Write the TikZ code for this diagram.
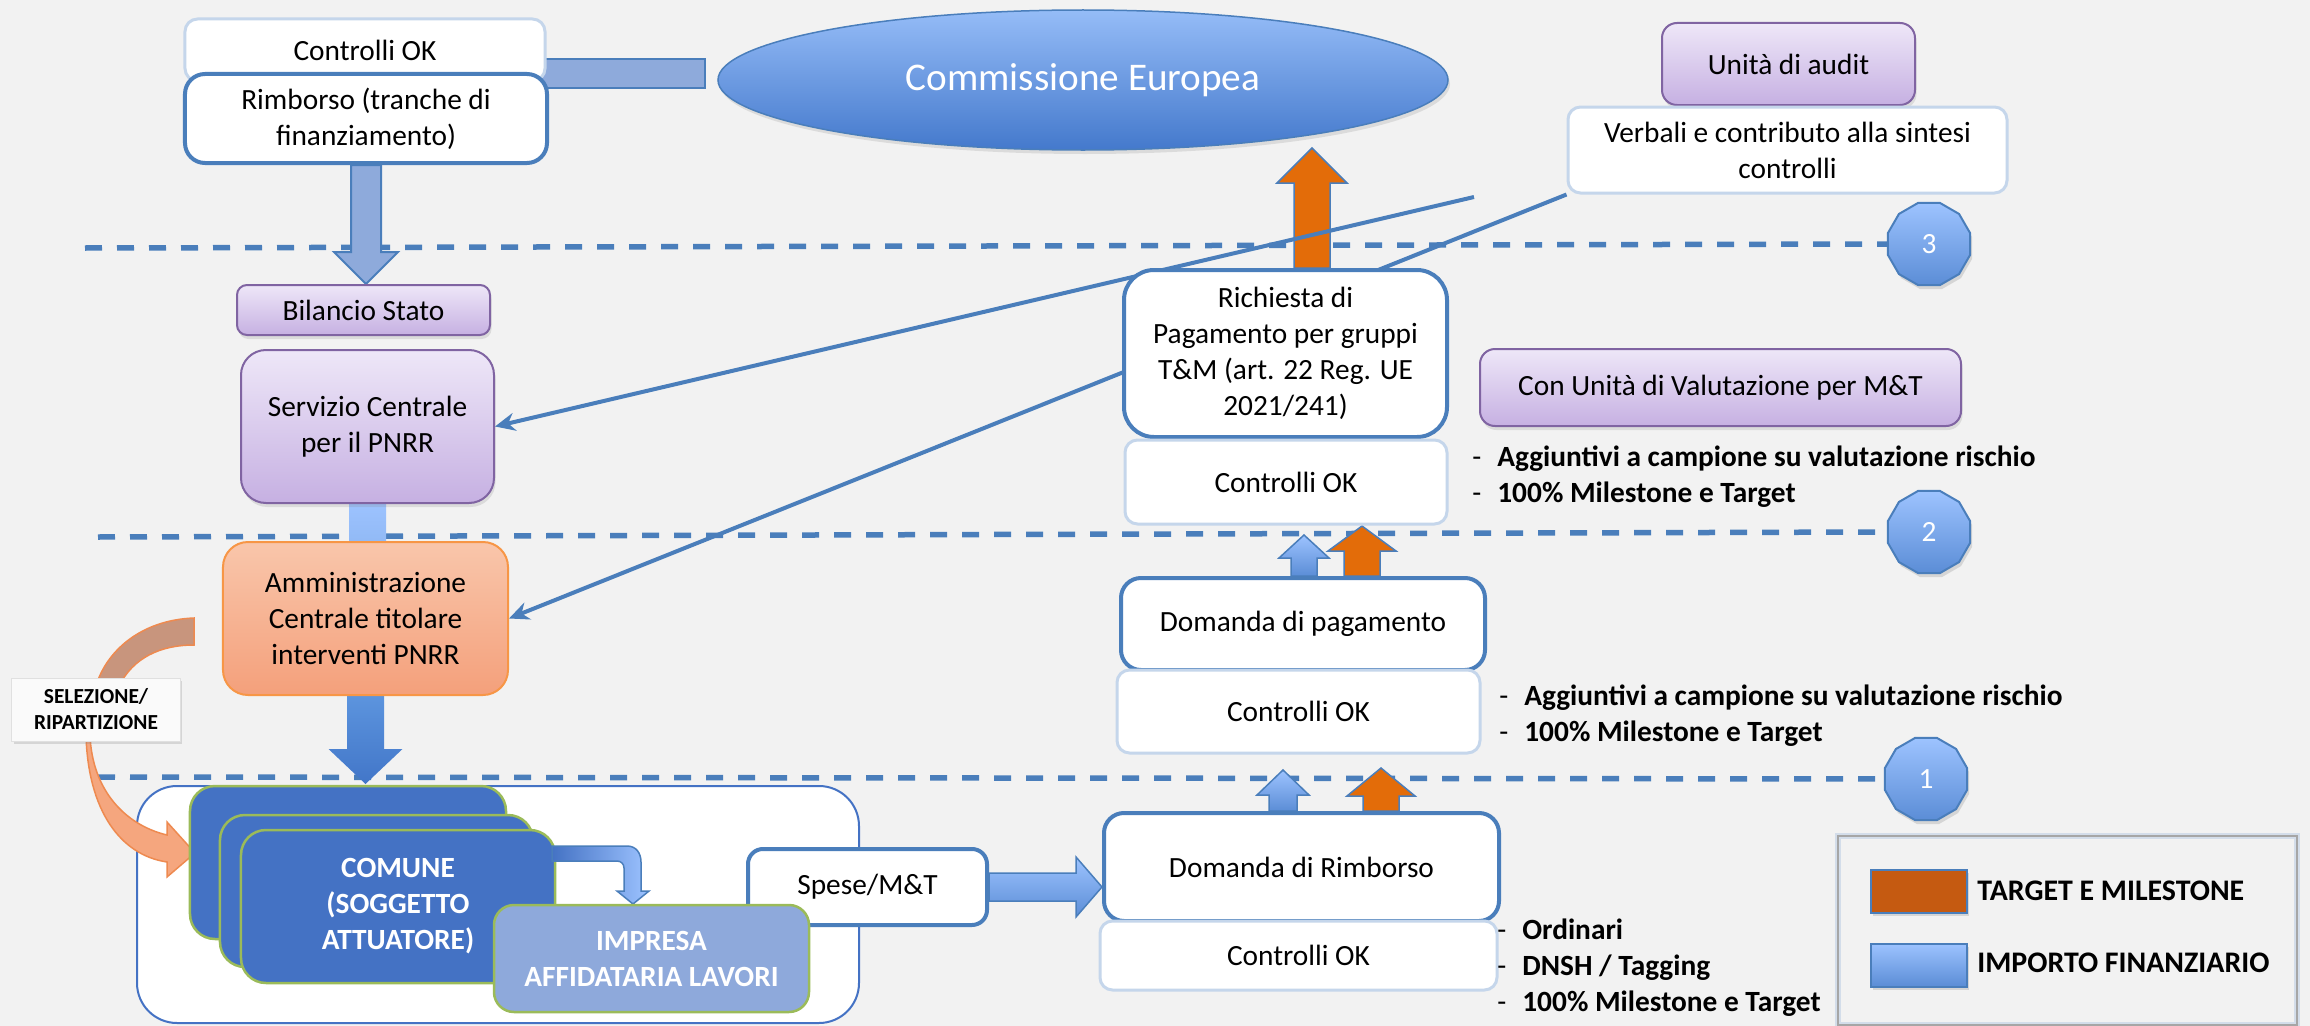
\documentclass[tikz,border=0pt]{standalone}
\usepackage{fontspec}
\setmainfont{Carlito}
\usetikzlibrary{arrows.meta,calc,shapes.geometric,shadows}

\definecolor{bgcol}{HTML}{F2F2F2}
\definecolor{boxblue}{HTML}{4A7EBB}
\definecolor{okedge}{HTML}{C5D6EB}
\definecolor{lilactop}{HTML}{EEE7F8}
\definecolor{lilacbot}{HTML}{C6B0E2}
\definecolor{lilacedge}{HTML}{8064A2}
\definecolor{peachtop}{HTML}{F9C6AB}
\definecolor{peachbot}{HTML}{F4A07B}
\definecolor{peachedge}{HTML}{F79646}
\definecolor{comuneblue}{HTML}{4472C4}
\definecolor{leafgreen}{HTML}{9BBB59}
\definecolor{impresablue}{HTML}{8EA9DB}
\definecolor{barfill}{HTML}{8EAADB}
\definecolor{fintop}{HTML}{9DC3FF}
\definecolor{finbot}{HTML}{5B8DD6}
\definecolor{deeptop}{HTML}{5C94DE}
\definecolor{deepbot}{HTML}{4276C8}
\definecolor{tmorange}{HTML}{E36C09}
\definecolor{legorange}{HTML}{C55A11}
\definecolor{ovaltop}{HTML}{95BCF7}
\definecolor{ovalbot}{HTML}{4479CC}
\definecolor{selbrown}{HTML}{C8957D}
\definecolor{selorange}{HTML}{F5A67E}
\definecolor{seledge}{HTML}{EE8A50}
\definecolor{legendedge}{HTML}{D3DDEA}

\pgfdeclarelayer{bg}
\pgfdeclarelayer{back}
\pgfsetlayers{bg,back,main}

\tikzset{
  okbox/.style={draw=okedge, line width=0.6mm, fill=white, rounded corners=2.5mm, align=center, inner sep=0pt},
  mainbox/.style={draw=boxblue, line width=0.8mm, fill=white, rounded corners=4mm, align=center, inner sep=0pt},
  lilacbox/.style={draw=lilacedge, line width=0.4mm, top color=lilactop, bottom color=lilacbot, rounded corners=3mm, align=center, inner sep=0pt,
    drop shadow={opacity=0.2, shadow xshift=0.3mm, shadow yshift=-0.8mm}},
  peachbox/.style={draw=peachedge, line width=0.4mm, top color=peachtop, bottom color=peachbot, rounded corners=5mm, align=center, inner sep=0pt},
  comunebox/.style={draw=leafgreen, line width=0.5mm, fill=comuneblue, rounded corners=5mm, text=white, align=center, inner sep=0pt,
    font=\fontsize{16.7}{20.5}\selectfont\bfseries},
  selbox/.style={draw=black!12, line width=0.2mm, fill=white!98!black, align=center, inner sep=0pt,
    font=\fontsize{12.2}{14.8}\selectfont\bfseries, drop shadow={opacity=0.25, shadow xshift=0.4mm, shadow yshift=-0.6mm}},
  groupframe/.style={draw=comuneblue, line width=0.4mm, fill=white, rounded corners=8mm},
  levelline/.style={draw=boxblue, line width=1.1mm, dash pattern=on 3.4mm off 3mm},
  feedline/.style={draw=boxblue, line width=0.8mm, -{Stealth[length=4mm,width=3.6mm]}},
  finarrow/.style={draw=boxblue, line width=0.3mm, top color=fintop, bottom color=finbot},
  deeparrow/.style={draw=none, top color=deeptop, bottom color=deepbot},
  tmarrow/.style={draw=boxblue, line width=0.3mm, fill=tmorange},
  barblue/.style={draw=boxblue, line width=0.4mm, fill=barfill},
  stemlight/.style={draw=none, top color=fintop, bottom color=fintop!85!boxblue},
  bentarrow/.style={draw=boxblue, line width=0.3mm, left color=comuneblue, right color=fintop},
  selupper/.style={draw=seledge, line width=0.3mm, fill=selbrown},
  sellower/.style={draw=seledge, line width=0.3mm, fill=selorange},
  levelmark/.style={regular polygon, regular polygon sides=12, minimum size=17mm, inner sep=0pt, draw=boxblue, line width=0.4mm,
    top color=fintop, bottom color=finbot, text=white, drop shadow={opacity=0.25, shadow xshift=0.4mm, shadow yshift=-0.8mm}},
  listtext/.style={anchor=west, align=left, inner sep=0pt},
  swatch/.style={draw=boxblue, line width=0.4mm, minimum width=19.2mm, minimum height=8.6mm, inner sep=0pt,
    drop shadow={opacity=0.25, shadow xshift=0.4mm, shadow yshift=-0.6mm}},
  legendframe/.style={draw=legendedge, double=black!35, line width=0.4mm, double distance=0.4mm}
}

\newcommand{\blockarrow}[6]{%
  \path[#1] let \p1=(#2), \p2=(#3), \n1={veclen(\x2-\x1,\y2-\y1)}, \n2={atan2(\y2-\y1,\x2-\x1)} in
    {[shift={(\p1)}, rotate=\n2] (0mm,-#4) -- (\n1-#6,-#4) -- (\n1-#6,-#5) -- (\n1,0mm) -- (\n1-#6,#5) -- (\n1-#6,#4) -- (0mm,#4) -- cycle};
}

\begin{document}
\begin{tikzpicture}[x=0.2mm, y=-0.2mm, font=\fontsize{16.7}{20.5}\selectfont]
            \useasboundingbox (0,0) rectangle (2310,1026);
            \begin{pgfonlayer}{bg}
            \fill[bgcol] (0,0) rectangle (2310,1026);
            \draw[groupframe] (137,786) rectangle (859,1023);
            \end{pgfonlayer}

            \node[okbox, minimum width=72mm, minimum height=12.4mm] (ctrlTop) at (365,50) {Controlli OK};
            \node[mainbox, minimum width=72.4mm, minimum height=17.8mm] (rimborso) at (366,118.5) {Rimborso (tranche di\\finanziamento)};
            \node[ellipse, minimum width=146mm, minimum height=28mm, draw=boxblue, line width=0.3mm, top color=ovaltop, bottom color=ovalbot,
                  text=white, font=\fontsize{22.3}{26}\selectfont, drop shadow={opacity=0.2, shadow xshift=0.4mm, shadow yshift=-0.8mm}] (commissione) at (1083,80) {Commissione Europea};
            \node[lilacbox, minimum width=50.6mm, minimum height=16.4mm] (audit) at (1788.5,64) {Unità di audit};
            \node[okbox, minimum width=87.8mm, minimum height=17.2mm] (verbali) at (1787.5,150) {Verbali e contributo alla sintesi\\controlli};
            \node[lilacbox, minimum width=50.6mm, minimum height=10mm, rounded corners=2mm] (bilancio) at (363.5,310) {Bilancio Stato};
            \node[lilacbox, minimum width=50.6mm, minimum height=30.6mm, rounded corners=5mm] (servizio) at (367.5,426.5) {Servizio Centrale\\per il PNRR};
            \node[peachbox, minimum width=57mm, minimum height=30.6mm] (amministrazione) at (365.5,618.5) {Amministrazione\\Centrale titolare\\interventi PNRR};
            \node[selbox, minimum width=33.6mm, minimum height=12.6mm] (selezione) at (96,709.5) {SELEZIONE/\\RIPARTIZIONE};
            \node[comunebox, minimum width=63.2mm, minimum height=30.6mm] (comuneBack) at (348,862.5) {};
            \node[comunebox, minimum width=62.6mm, minimum height=30.4mm] (comuneMid) at (376.5,891) {};
            \node[comunebox, minimum width=62.8mm, minimum height=30.6mm] (comune) at (398,906.5) {COMUNE\\(SOGGETTO\\ATTUATORE)};
            \path[bentarrow] (552,846) -- (627,846) .. controls (636,846) and (641,853) .. (641,862) -- (641,891) -- (649,891) -- (633,904)
                  -- (617,891) -- (624,891) -- (624,868) .. controls (624,864) and (621,861) .. (617,861) -- (552,861) -- cycle;
            \node[mainbox, minimum width=47.8mm, minimum height=15.2mm, rounded corners=3mm] (spese) at (867.5,887) {Spese/M\&T};
            \node[comunebox, fill=impresablue, rounded corners=4mm, minimum width=63mm, minimum height=21.4mm] (impresa) at (651.5,958.5) {IMPRESA\\AFFIDATARIA LAVORI};
            \node[mainbox, minimum width=64.6mm, minimum height=33.4mm, rounded corners=6mm] (richiesta) at (1285.5,353.5) {Richiesta di\\Pagamento per gruppi\\T\&M (art. 22 Reg. UE\\2021/241)};
            \node[okbox, minimum width=64.4mm, minimum height=16.8mm] (ctrlRich) at (1286,482) {Controlli OK};
            \node[lilacbox, minimum width=96.2mm, minimum height=15.4mm] (valutazione) at (1720.5,387.5) {Con Unità di Valutazione per M\&T};
            \node[mainbox, minimum width=72.8mm, minimum height=18.4mm] (domPag) at (1303,624) {Domanda di pagamento};
            \node[okbox, minimum width=72.6mm, minimum height=16.6mm] (ctrlPag) at (1298.5,711.5) {Controlli OK};
            \node[mainbox, minimum width=79mm, minimum height=21.6mm] (domRimb) at (1301.5,867) {Domanda di Rimborso};
            \node[okbox, minimum width=79.4mm, minimum height=13.8mm] (ctrlRimb) at (1298.5,955.5) {Controlli OK};
            \node[listtext] (listRich) at (1472,477) {\makebox[5mm][l]{-}\textbf{Aggiuntivi a campione su valutazione rischio}\\\makebox[5mm][l]{-}\textbf{100\% Milestone e Target}};
            \node[listtext] (listPag) at (1499,715.5) {\makebox[5mm][l]{-}\textbf{Aggiuntivi a campione su valutazione rischio}\\\makebox[5mm][l]{-}\textbf{100\% Milestone e Target}};
            \node[listtext] (listRimb) at (1497,967.5) {\makebox[5mm][l]{-}\textbf{Ordinari}\\\makebox[5mm][l]{-}\textbf{DNSH / Tagging}\\\makebox[5mm][l]{-}\textbf{100\% Milestone e Target}};
            \node[levelmark] (lvl3) at (1929,244) {3};
            \node[levelmark] (lvl2) at (1929,532) {2};
            \node[levelmark] (lvl1) at (1926,779) {1};
            \node[legendframe, minimum width=91.8mm, minimum height=37.8mm] (legend) at (2067.5,930.5) {};
            \node[swatch, fill=legorange] (swTM) at (1919,891.5) {};
            \node[swatch, top color=fintop, bottom color=finbot] (swFin) at (1919,965) {};
            \node[anchor=west, inner sep=0pt, font=\fontsize{17}{20}\selectfont\bfseries] (txtTM) at (1977,891) {TARGET E MILESTONE};
            \node[anchor=west, inner sep=0pt, font=\fontsize{17}{20}\selectfont\bfseries] (txtFin) at (1977,963) {IMPORTO FINANZIARIO};

            \coordinate (lvl3start) at (85,248);
            \coordinate (lvl2start) at (98,537);
            \coordinate (lvl1start) at (98,777);
            \coordinate (auditTail) at (1474,197);
            \begin{pgfonlayer}{back}
            \draw[levelline] (lvl3start) -- (lvl3.west);
            \draw[levelline] (lvl2start) -- (lvl2.west);
            \draw[levelline] (lvl1start) -- (lvl1.west);
            \draw[barblue] ($(rimborso.north east)+(-8,-13)$) rectangle ++(164,29);
            \blockarrow{barblue}{rimborso.south}{rimborso.south |- bilancio.north}{3mm}{6.4mm}{6.4mm}
            \draw[stemlight] ($(servizio.south)+(-18.5,-2)$) rectangle ($(servizio.south |- amministrazione.north)+(18.5,4)$);
            \blockarrow{deeparrow}{amministrazione.south}{$(amministrazione.south)+(0,88)$}{3.7mm}{7.4mm}{7mm}
            \blockarrow{finarrow}{spese.east}{spese.east -| domRimb.west}{2.8mm}{6mm}{5.2mm}
            \blockarrow{finarrow}{$(domRimb.north)+(-18.5,0)$}{$(domRimb.north)+(-18.5,-41)$}{2.8mm}{5.2mm}{5mm}
            \blockarrow{tmarrow}{$(domRimb.north)+(79.5,0)$}{$(domRimb.north)+(79.5,-43)$}{3.6mm}{6.8mm}{5.6mm}
            \blockarrow{finarrow}{$(domPag.north)+(1,0)$}{$(domPag.north)+(1,-41)$}{2.6mm}{5mm}{4.6mm}
            \blockarrow{tmarrow}{$(domPag.north)+(59,0)$}{$(domPag.north)+(59,-50)$}{3.6mm}{6.8mm}{5mm}
            \blockarrow{tmarrow}{$(richiesta.north)+(26.5,0)$}{$(richiesta.north)+(26.5,-120)$}{3.6mm}{7mm}{7mm}
            \draw[feedline] (auditTail) -- (servizio.east);
            \draw[feedline] (verbali.south west) -- (amministrazione.east);
            \path[selupper] (194,618) .. controls (140,620) and (106,652) .. (96,686) -- (119,686) .. controls (133,658) and (160,645) .. (194,645) -- cycle;
            \path[sellower] (86,735) .. controls (88,810) and (120,855) .. (167,862) -- (167,877) -- (195,853) -- (167,822) -- (167,835)
                  .. controls (125,825) and (92,790) .. (90,735) -- cycle;
            \end{pgfonlayer}
         \end{tikzpicture}
\end{document}
